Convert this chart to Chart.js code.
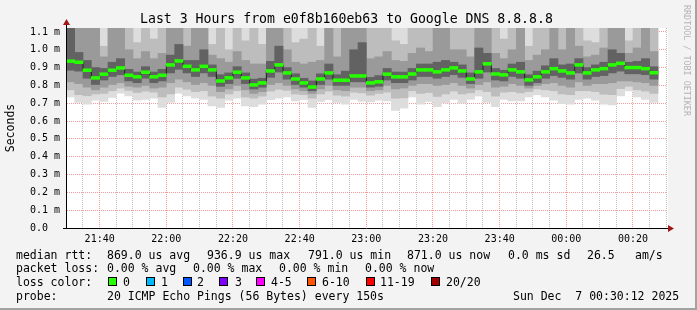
<!DOCTYPE html>
<html>
<head>
<meta charset="utf-8">
<script src="https://cdn.jsdelivr.net/npm/chart.js@4/dist/chart.umd.min.js"></script>
<style>
  html, body { margin: 0; padding: 0; background: #f3f3f3; }
  #wrap { position: relative; width: 697px; height: 310px; overflow: hidden; background: #f3f3f3;
          font-family: "DejaVu Sans Mono", monospace; color: #000; }
  #wrap canvas { position: absolute; left: 0; top: 0; }
  .txt { position: absolute; white-space: pre; font-size: 11.5px; line-height: 14px; }
  .title { position: absolute; left: 140px; top: 10px; font-size: 13.2px; line-height: 18px; white-space: pre; }
  .brand { position: absolute; left: 682px; top: 5px; font-size: 8.4px; color: #b4b4b4;
           writing-mode: vertical-rl; white-space: pre; }
  .sq { position: absolute; width: 7px; height: 7px; border: 1px solid #000; }
  .frame { position: absolute; left: 0; top: 0; width: 695px; height: 308px;
           border-right: 2px solid #a2a2a2; border-bottom: 2px solid #a2a2a2; pointer-events: none; }
</style>
</head>
<body>
<div id="wrap">
  <canvas id="smoke" width="697" height="310"></canvas>
  <div class="title">Last 3 Hours from e0f8b160eb63 to Google DNS 8.8.8.8</div>
  <div class="brand">RRDTOOL / TOBI OETIKER</div>

  <div class="txt" style="left:16px;top:248px">median rtt:</div>
  <div class="txt" style="left:107px;top:248px">869.0 us avg</div>
  <div class="txt" style="left:207px;top:248px">936.9 us max</div>
  <div class="txt" style="left:308px;top:248px">791.0 us min</div>
  <div class="txt" style="left:407px;top:248px">871.0 us now</div>
  <div class="txt" style="left:508px;top:248px">0.0 ms sd</div>
  <div class="txt" style="left:587px;top:248px">26.5</div>
  <div class="txt" style="left:635px;top:248px">am/s</div>

  <div class="txt" style="left:16px;top:261px">packet loss:</div>
  <div class="txt" style="left:107px;top:261px">0.00 % avg</div>
  <div class="txt" style="left:193px;top:261px">0.00 % max</div>
  <div class="txt" style="left:279px;top:261px">0.00 % min</div>
  <div class="txt" style="left:365px;top:261px">0.00 % now</div>

  <div class="txt" style="left:16px;top:275px">loss color:</div>
  <div id="losslegend"></div>

  <div class="txt" style="left:16px;top:289px">probe:</div>
  <div class="txt" style="left:107px;top:289px">20 ICMP Echo Pings (56 Bytes) every 150s</div>
  <div class="txt" style="left:513px;top:289px">Sun Dec  7 00:30:12 2025</div>
  <div class="frame"></div>
</div>

<script>
// time axis in minutes after midnight (Dec 6); graph runs 21:30:12 .. 00:30:12
var startMin = 1290.2;
var endMin = 1470.2;
var firstStep = 1290;     // 21:30:00, rrd step boundary
var stepMin = 2.5;        // 150 s probe interval

var xMajorTicks = [1300, 1320, 1340, 1360, 1380, 1400, 1420, 1440, 1460];
var xTickLabels = ['21:40', '22:00', '22:20', '22:40', '23:00', '23:20', '23:40', '00:00', '00:20'];
var yTicks = [0, 0.1, 0.2, 0.3, 0.4, 0.5, 0.6, 0.7, 0.8, 0.9, 1.0, 1.1];
var yTickLabels = ['0.0  ', '0.1 m', '0.2 m', '0.3 m', '0.4 m', '0.5 m', '0.6 m', '0.7 m', '0.8 m', '0.9 m', '1.0 m', '1.1 m'];

// median rtt per step, ms
var medianRtt = [
  0.936, 0.930, 0.885, 0.842, 0.863, 0.885, 0.898, 0.857, 0.848, 0.874, 0.848, 0.857, 0.915, 0.937, 0.907, 0.887, 0.907, 0.887,
  0.825, 0.842, 0.874, 0.842, 0.803, 0.814, 0.881, 0.915, 0.870, 0.836, 0.814, 0.791, 0.836, 0.870, 0.829, 0.829, 0.853, 0.853,
  0.814, 0.820, 0.863, 0.848, 0.848, 0.864, 0.887, 0.887, 0.876, 0.887, 0.898, 0.881, 0.836, 0.876, 0.921, 0.864, 0.859, 0.887,
  0.876, 0.831, 0.848, 0.876, 0.894, 0.881, 0.870, 0.915, 0.870, 0.887, 0.894, 0.915, 0.924, 0.900, 0.900, 0.894, 0.871
];

// smoke bands (sorted pings), ms; 1.2 = above the graph top
var smokeLo1 = [
  0.735, 0.704, 0.695, 0.717, 0.710, 0.732, 0.756, 0.741, 0.717, 0.722, 0.728, 0.676, 0.704, 0.756, 0.741, 0.728, 0.722, 0.685,
  0.676, 0.717, 0.728, 0.685, 0.680, 0.695, 0.720, 0.728, 0.735, 0.713, 0.720, 0.676, 0.710, 0.720, 0.704, 0.695, 0.722, 0.710,
  0.707, 0.717, 0.713, 0.660, 0.672, 0.735, 0.695, 0.710, 0.680, 0.702, 0.722, 0.700, 0.722, 0.740, 0.704, 0.680, 0.722, 0.713,
  0.713, 0.735, 0.747, 0.735, 0.717, 0.698, 0.695, 0.722, 0.728, 0.717, 0.695, 0.690, 0.741, 0.769, 0.735, 0.722, 0.705
];
var smokeLo2 = [
  0.775, 0.748, 0.742, 0.752, 0.755, 0.770, 0.785, 0.772, 0.760, 0.768, 0.762, 0.735, 0.752, 0.790, 0.778, 0.765, 0.770, 0.740,
  0.728, 0.752, 0.770, 0.735, 0.728, 0.740, 0.768, 0.778, 0.772, 0.752, 0.748, 0.728, 0.752, 0.768, 0.745, 0.740, 0.762, 0.758,
  0.745, 0.755, 0.762, 0.728, 0.730, 0.770, 0.755, 0.760, 0.738, 0.752, 0.768, 0.752, 0.758, 0.775, 0.765, 0.740, 0.762, 0.765,
  0.758, 0.765, 0.780, 0.775, 0.770, 0.752, 0.748, 0.770, 0.770, 0.765, 0.750, 0.748, 0.782, 0.795, 0.775, 0.768, 0.755
];
var smokeLo3 = [
  0.820, 0.810, 0.790, 0.775, 0.790, 0.805, 0.815, 0.795, 0.790, 0.800, 0.785, 0.790, 0.815, 0.835, 0.820, 0.805, 0.815, 0.800,
  0.765, 0.780, 0.800, 0.775, 0.755, 0.765, 0.805, 0.815, 0.800, 0.780, 0.770, 0.755, 0.780, 0.800, 0.775, 0.770, 0.790, 0.790,
  0.770, 0.775, 0.800, 0.780, 0.785, 0.800, 0.810, 0.810, 0.800, 0.805, 0.815, 0.800, 0.785, 0.805, 0.820, 0.790, 0.795, 0.810,
  0.800, 0.785, 0.800, 0.810, 0.815, 0.800, 0.790, 0.820, 0.800, 0.810, 0.810, 0.815, 0.825, 0.825, 0.820, 0.815, 0.800
];
var smokeLo4 = [
  0.885, 0.880, 0.840, 0.805, 0.830, 0.850, 0.860, 0.825, 0.815, 0.840, 0.815, 0.825, 0.870, 0.890, 0.870, 0.850, 0.870, 0.850,
  0.795, 0.810, 0.840, 0.810, 0.780, 0.790, 0.845, 0.875, 0.835, 0.805, 0.790, 0.770, 0.805, 0.835, 0.800, 0.800, 0.820, 0.820,
  0.790, 0.795, 0.830, 0.815, 0.815, 0.830, 0.850, 0.850, 0.840, 0.850, 0.860, 0.845, 0.810, 0.840, 0.875, 0.830, 0.825, 0.850,
  0.840, 0.800, 0.815, 0.840, 0.855, 0.845, 0.835, 0.870, 0.835, 0.850, 0.855, 0.870, 0.880, 0.865, 0.865, 0.860, 0.835
];
var smokeHi4 = [
  1.2, 0.985, 0.940, 0.900, 0.895, 0.930, 0.950, 0.890, 0.875, 0.905, 0.875, 0.890, 0.970, 1.030, 0.940, 0.940, 1.000, 0.915,
  0.860, 0.870, 0.905, 0.870, 0.835, 0.840, 0.935, 1.020, 0.900, 0.865, 0.840, 0.825, 0.865, 0.920, 0.860, 0.880, 1.000, 1.040,
  0.845, 0.855, 0.895, 0.875, 0.875, 0.895, 0.920, 0.920, 0.930, 0.940, 0.930, 0.915, 0.870, 1.010, 0.980, 0.895, 0.885, 0.920,
  0.930, 0.860, 0.880, 0.910, 0.950, 0.915, 0.920, 0.950, 0.900, 0.915, 0.930, 1.000, 0.980, 0.930, 0.935, 0.950, 0.905
];
var smokeHi3 = [
  1.2, 1.2, 1.2, 1.2, 0.960, 1.2, 1.2, 1.000, 0.950, 0.990, 0.950, 0.980, 1.2, 1.2, 1.020, 1.2, 1.2, 0.970,
  0.950, 0.930, 0.990, 0.940, 0.920, 0.920, 1.2, 1.2, 1.000, 0.930, 0.920, 0.930, 0.940, 1.2, 0.960, 1.2, 1.2, 1.2,
  0.950, 0.960, 0.990, 0.940, 0.935, 0.980, 1.010, 0.990, 1.2, 1.2, 1.000, 1.000, 0.960, 1.2, 1.2, 0.980, 0.950, 1.000,
  1.2, 0.940, 0.970, 1.000, 1.2, 1.000, 1.2, 1.020, 0.960, 0.970, 1.010, 1.2, 1.2, 0.980, 1.010, 1.2, 0.990
];
var smokeHi2 = [
  1.2, 1.2, 1.2, 1.2, 1.020, 1.2, 1.2, 1.2, 1.040, 1.2, 1.060, 1.2, 1.2, 1.2, 1.2, 1.2, 1.2, 1.030,
  1.2, 1.000, 1.2, 1.050, 1.2, 1.030, 1.2, 1.2, 1.2, 1.040, 1.060, 1.2, 1.020, 1.2, 1.2, 1.2, 1.2, 1.2,
  1.2, 1.2, 1.2, 1.050, 1.030, 1.2, 1.2, 1.2, 1.2, 1.2, 1.2, 1.2, 1.2, 1.2, 1.2, 1.2, 1.060, 1.2,
  1.2, 1.020, 1.2, 1.2, 1.2, 1.2, 1.2, 1.2, 1.050, 1.040, 1.2, 1.2, 1.2, 1.050, 1.2, 1.2, 1.2
];
var smokeHi1 = [
  1.2, 1.2, 1.2, 1.2, 1.2, 1.2, 1.2, 1.2, 1.2, 1.2, 1.2, 1.2, 1.2, 1.2, 1.2, 1.2, 1.2, 1.2,
  1.2, 1.2, 1.2, 1.2, 1.2, 1.2, 1.2, 1.2, 1.2, 1.2, 1.2, 1.2, 1.2, 1.2, 1.2, 1.2, 1.2, 1.2,
  1.2, 1.2, 1.2, 1.2, 1.2, 1.2, 1.2, 1.2, 1.2, 1.2, 1.2, 1.2, 1.2, 1.2, 1.2, 1.2, 1.2, 1.2,
  1.2, 1.2, 1.2, 1.2, 1.2, 1.2, 1.2, 1.2, 1.2, 1.2, 1.2, 1.2, 1.2, 1.2, 1.2, 1.2, 1.2
];

var lossLabels = ['0', '1', '2', '3', '4-5', '6-10', '11-19', '20/20'];
var lossColors = ['#26ff00', '#00b8ff', '#0059ff', '#7e00ff', '#ff00ff', '#ff5500', '#ff0000', '#a10000'];

(function () {
  "use strict";

  // loss colour legend, squares + labels
  var sqLeft = [108, 146, 183, 219, 256, 307, 366, 431];
  var lblLeft = [123, 161, 197, 235, 271, 322, 380, 446];
  var holder = document.getElementById('losslegend');
  for (var i = 0; i < lossLabels.length; i++) {
    var sq = document.createElement('div');
    sq.className = 'sq';
    sq.style.left = sqLeft[i] + 'px';
    sq.style.top = '277px';
    sq.style.background = lossColors[i];
    holder.appendChild(sq);
    var t = document.createElement('div');
    t.className = 'txt';
    t.style.left = lblLeft[i] + 'px';
    t.style.top = '275px';
    t.textContent = lossLabels[i];
    holder.appendChild(t);
  }

  function stepMid(i) {
    return firstStep + stepMin * i + stepMin / 2;
  }

  function band(lo, hi, color, order) {
    return {
      type: 'bar',
      data: lo.map(function (v, i) { return { x: stepMid(i), y: [v, hi[i]] }; }),
      backgroundColor: color,
      borderWidth: 0,
      grouped: false,
      barPercentage: 1,
      categoryPercentage: 1,
      order: order
    };
  }

  // thin dark median line, steps change at rrd boundaries
  var medianLine = [{ x: firstStep, y: medianRtt[0] }];
  medianRtt.forEach(function (v, i) {
    medianLine.push({ x: firstStep + stepMin * (i + 1), y: v });
  });

  var medW = 0.008;
  var medianBars = band(
    medianRtt.map(function (v) { return v - medW; }),
    medianRtt.map(function (v) { return v + medW; }),
    lossColors[0], 5);

  var mono = 'DejaVu Sans Mono';

  var frame = {
    id: 'frame',
    beforeDraw: function (chart) {
      var ctx = chart.ctx, a = chart.chartArea;
      ctx.save();
      ctx.fillStyle = '#ffffff';
      ctx.fillRect(a.left, a.top, a.right - a.left + 1, a.bottom - a.top);
      ctx.restore();
    },
    afterDraw: function (chart) {
      var ctx = chart.ctx, a = chart.chartArea;
      ctx.save();
      ctx.strokeStyle = '#000000';
      ctx.lineWidth = 1;
      ctx.beginPath();
      ctx.moveTo(a.left - 0.5, a.top - 6);
      ctx.lineTo(a.left - 0.5, a.bottom + 0.5);
      ctx.moveTo(a.left - 4, a.bottom + 0.5);
      ctx.lineTo(a.right + 3, a.bottom + 0.5);
      ctx.stroke();
      ctx.fillStyle = '#a01818';
      ctx.beginPath();
      ctx.moveTo(a.left - 0.5, a.top - 9);
      ctx.lineTo(a.left - 4, a.top - 3);
      ctx.lineTo(a.left + 3, a.top - 3);
      ctx.closePath();
      ctx.fill();
      ctx.beginPath();
      ctx.moveTo(a.right + 7, a.bottom + 0.5);
      ctx.lineTo(a.right + 1, a.bottom - 3);
      ctx.lineTo(a.right + 1, a.bottom + 4);
      ctx.closePath();
      ctx.fill();
      ctx.restore();
    }
  };

  new Chart(document.getElementById('smoke'), {
    type: 'bar',
    data: {
      datasets: [
        band(smokeLo1, smokeHi1, '#dddddd', 10),
        band(smokeLo2, smokeHi2, '#bdbdbd', 9),
        band(smokeLo3, smokeHi3, '#9a9a9a', 8),
        band(smokeLo4, smokeHi4, '#626262', 7),
        {
          type: 'line',
          data: medianLine,
          stepped: 'after',
          borderColor: '#202020',
          borderWidth: 1,
          pointRadius: 0,
          fill: false,
          order: 6
        },
        medianBars
      ]
    },
    options: {
      responsive: false,
      animation: false,
      events: [],
      layout: { padding: { left: 0, top: 28, right: 30, bottom: 62 } },
      plugins: { legend: { display: false }, tooltip: { enabled: false }, title: { display: false } },
      scales: {
        x: {
          type: 'linear',
          min: startMin,
          max: endMin,
          offset: false,
          z: 1,
          afterBuildTicks: function (scale) {
            var t = [];
            for (var m = 1295; m <= 1470; m += 5) t.push({ value: m });
            scale.ticks = t;
          },
          afterFit: function (scale) { scale.height = 20; },
          grid: {
            offset: false,
            drawTicks: false,
            lineWidth: 1,
            color: function (c) {
              return xMajorTicks.indexOf(c.tick && c.tick.value) >= 0 ? 'rgba(240,120,120,0.75)' : 'rgba(170,170,170,0.75)';
            }
          },
          border: { display: false, dash: [1, 1] },
          ticks: {
            autoSkip: false,
            maxRotation: 0,
            padding: 5,
            color: '#000',
            font: { family: mono, size: 10 },
            callback: function (v) {
              var k = xMajorTicks.indexOf(v);
              return k >= 0 ? xTickLabels[k] : '';
            }
          }
        },
        y: {
          min: 0,
          max: 1.122,
          z: 1,
          afterBuildTicks: function (scale) {
            scale.ticks = yTicks.map(function (v) { return { value: v }; });
          },
          afterFit: function (scale) { scale.width = 67; },
          grid: { drawTicks: false, color: 'rgba(240,120,120,0.75)' },
          border: { display: false, dash: [1, 1] },
          title: {
            display: true,
            text: 'Seconds',
            color: '#000',
            font: { family: mono, size: 11.5 },
            padding: { top: 4, bottom: 0 }
          },
          ticks: {
            padding: 7,
            color: '#000',
            font: { family: mono, size: 10 },
            callback: function (v, i) { return yTickLabels[i]; }
          }
        }
      }
    },
    plugins: [frame]
  });
})();
</script>
</body>
</html>
